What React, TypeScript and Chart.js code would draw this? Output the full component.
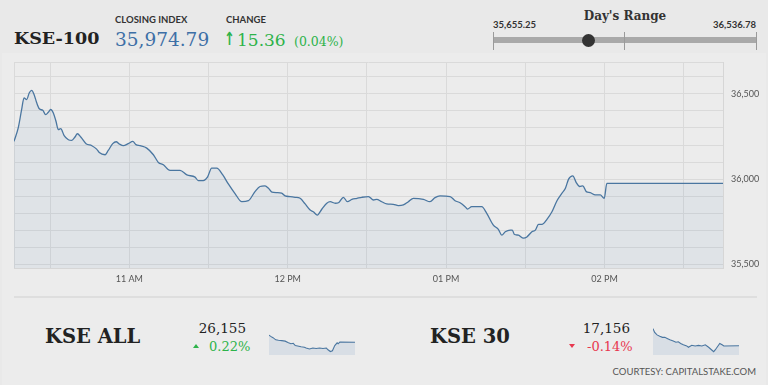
import React, { useEffect, useRef } from "react";
import { Chart, registerables } from "chart.js";

Chart.register(...registerables);

// ---------- KSE-100 intraday (minutes since midnight, index value) ----------
const kseTimes = [
  616.3, 617.9, 619.2, 620.1, 621.1, 622.1, 623.0, 623.9, 624.9, 625.9,
  627.2, 628.3, 629.3, 630.2, 631.2, 632.2, 633.1, 634.0, 635.3, 636.9,
  638.2, 639.4, 640.3, 641.6, 643.6, 645.8, 647.6, 648.6, 650.8, 652.0,
  653.7, 655.0, 656.2, 657.7, 659.6, 661.3, 662.5, 664.1, 666.6, 669.1,
  671.0, 672.9, 675.4, 679.2, 681.8, 684.9, 686.1, 688.0, 689.6, 691.2,
  693.1, 695.4, 697.5, 700.1, 702.6, 705.1, 707.6, 709.5, 711.4, 712.7,
  714.0, 715.9, 717.7, 719.0, 720.9, 722.8, 724.7, 726.6, 728.5, 729.7,
  731.2, 732.9, 734.8, 736.1, 738.0, 739.2, 741.1, 742.6, 744.3, 746.2,
  748.1, 750.6, 752.5, 753.7, 755.6, 757.5, 760.0, 761.9, 763.8, 765.7,
  767.6, 771.4, 773.9, 775.8, 777.7, 781.5, 783.4, 785.3, 787.2, 788.1,
  789.7, 791.6, 793.5, 795.4, 797.9, 799.8, 801.1, 802.4, 804.3, 805.1,
  805.8, 807.4, 809.3, 810.6, 812.5, 813.8, 815.0, 816.3, 818.2, 820.1,
  822.0, 823.9, 825.2, 826.4, 828.0, 829.3, 830.6, 831.8, 833.1, 834.6,
  836.5, 838.4, 839.9, 840.9, 884.9,
];
const kseValues = [
  36221, 36300, 36408, 36476, 36466, 36506, 36520, 36496, 36447, 36412,
  36403, 36378, 36392, 36408, 36388, 36339, 36290, 36296, 36255, 36231,
  36227, 36247, 36266, 36247, 36208, 36196, 36176, 36156, 36143, 36168,
  36208, 36219, 36206, 36196, 36208, 36221, 36202, 36196, 36182, 36143,
  36098, 36084, 36051, 36051, 36025, 36012, 35992, 35992, 36012, 36065,
  36065, 36025, 35972, 35914, 35868, 35874, 35927, 35957, 35961, 35947,
  35924, 35921, 35918, 35902, 35898, 35894, 35888, 35855, 35819, 35809,
  35790, 35824, 35859, 35868, 35859, 35862, 35894, 35868, 35882, 35888,
  35894, 35898, 35878, 35882, 35868, 35855, 35853, 35845, 35849, 35868,
  35888, 35882, 35868, 35892, 35902, 35898, 35874, 35862, 35839, 35825,
  35839, 35839, 35839, 35800, 35731, 35706, 35672, 35692, 35702, 35702,
  35678, 35672, 35655, 35662, 35692, 35702, 35735, 35735, 35765, 35809,
  35874, 35918, 35947, 36000, 36019, 35980, 35957, 35961, 35927, 35921,
  35908, 35908, 35888, 35975, 35975,
];

// axis ticks
const xGridTimes = [616.3, 630, 660, 690, 720, 750, 780, 810, 840, 870, 884.9];
const xHourLabels: Record<string, string> = { "660": "11 AM", "720": "12 PM", "780": "01 PM", "840": "02 PM" };
const yGridValues = [35480, 35500, 35600, 35700, 35800, 35900, 36000, 36100, 36200, 36300, 36400, 36500, 36600, 36686];
const yLabelledValues = [35500, 36000, 36500];

// header figures
const closingIndex = 35974.79;
const changePts = 15.36;
const changePct = 0.04;
const dayLow = 35655.25;
const dayHigh = 36536.78;

// ---------- KSE ALL sparkline ----------
const allTimes = [
  618.4, 623.6, 630.9, 639.3, 647.7, 658.1, 668.6, 676.9, 686.3, 693.6,
  699.9, 707.2, 717.7, 728.1, 733.4, 743.8, 754.3, 764.7, 775.2, 785.6,
  796.1, 801.3, 808.6, 814.9, 822.2, 829.5, 832.6, 837.9, 884.9,
];
const allValues = [
  26241, 26226, 26210, 26184, 26178, 26174, 26168, 26151, 26136, 26142,
  26115, 26109, 26100, 26094, 26084, 26073, 26084, 26079, 26084, 26079,
  26084, 26063, 26042, 26052, 26115, 26147, 26136, 26157, 26155,
];
const allLast = "26,155";
const allPct = "0.22%";

// ---------- KSE 30 sparkline ----------
const k30Times = [
  618.4, 623.6, 630.9, 639.3, 647.7, 655.0, 662.3, 670.6, 681.1, 689.5,
  696.8, 704.1, 712.4, 722.9, 728.1, 738.6, 749.0, 759.5, 769.9, 780.4,
  790.8, 801.3, 806.5, 811.7, 817.0, 825.3, 832.6, 837.9, 884.9,
];
const k30Values = [
  17260, 17237, 17222, 17214, 17207, 17207, 17200, 17192, 17185, 17177,
  17180, 17170, 17162, 17155, 17147, 17159, 17155, 17158, 17155, 17162,
  17147, 17129, 17120, 17132, 17147, 17170, 17162, 17155, 17156,
];
const k30Last = "17,156";
const k30Pct = "-0.14%";

const LINE = "#4a76a0";
const SERIF = "'DejaVu Serif', 'Liberation Serif', serif";
const SANS = "Lato, 'Open Sans', sans-serif";

function toXY(ts: number[], vs: number[]) {
  return ts.map((t, i) => ({ x: t, y: vs[i] }));
}

function MainChart() {
  const ref = useRef<HTMLCanvasElement | null>(null);
  useEffect(() => {
    const chart = new Chart(ref.current!, {
      type: "line",
      data: {
        datasets: [
          {
            data: toXY(kseTimes, kseValues),
            borderColor: LINE,
            borderWidth: 1.3,
            backgroundColor: "rgba(110,150,190,0.10)",
            fill: "start",
            pointRadius: 0,
            cubicInterpolationMode: "monotone",
          },
        ],
      },
      options: {
        animation: false,
        responsive: false,
        maintainAspectRatio: false,
        layout: { padding: 0 },
        plugins: { legend: { display: false }, tooltip: { enabled: false } },
        scales: {
          x: {
            type: "linear",
            min: kseTimes[0],
            max: kseTimes[kseTimes.length - 1],
            afterBuildTicks: (s: any) => {
              s.ticks = xGridTimes.map((v) => ({ value: v }));
            },
            afterFit: (s: any) => {
              s.height = 27;
              s.paddingLeft = 0;
              s.paddingRight = 0;
            },
            ticks: {
              autoSkip: false,
              maxRotation: 0,
              padding: 6,
              color: "#555",
              font: { family: SANS, size: 9 },
              callback: (v: any) => xHourLabels[String(v)] ?? "",
            },
            grid: { color: "#dadada", drawTicks: false },
            border: { color: "#d6d6d6" },
          },
          y: {
            type: "linear",
            position: "right",
            min: yGridValues[0],
            max: yGridValues[yGridValues.length - 1],
            afterBuildTicks: (s: any) => {
              s.ticks = yGridValues.map((v) => ({ value: v }));
            },
            afterFit: (s: any) => {
              s.width = 45;
              s.paddingTop = 0;
              s.paddingBottom = 0;
            },
            ticks: {
              padding: 8,
              color: "#555",
              font: { family: SANS, size: 9 },
              callback: (v: any) => (yLabelledValues.includes(Number(v)) ? Number(v).toLocaleString("en-US") : ""),
            },
            grid: { color: "#dadada", drawTicks: false },
            border: { color: "#d6d6d6" },
          },
        },
      },
    } as any);
    return () => chart.destroy();
  }, []);
  return (
    <canvas
      ref={ref}
      width={754}
      height={233}
      style={{ position: "absolute", left: 14, top: 62, width: 754, height: 233 }}
    />
  );
}

function Spark({ ts, vs, left, top }: { ts: number[]; vs: number[]; left: number; top: number }) {
  const ref = useRef<HTMLCanvasElement | null>(null);
  useEffect(() => {
    const chart = new Chart(ref.current!, {
      type: "line",
      data: {
        datasets: [
          {
            data: toXY(ts, vs),
            borderColor: LINE,
            borderWidth: 1.1,
            backgroundColor: "rgba(110,150,190,0.16)",
            fill: "start",
            pointRadius: 0,
            tension: 0,
          },
        ],
      },
      options: {
        animation: false,
        responsive: false,
        maintainAspectRatio: false,
        layout: { padding: { top: 1 } },
        plugins: { legend: { display: false }, tooltip: { enabled: false } },
        scales: {
          x: { type: "linear", display: false, min: ts[0], max: ts[ts.length - 1] },
          y: { type: "linear", display: false, grace: 0 },
        },
      },
    } as any);
    return () => chart.destroy();
  }, []);
  return (
    <canvas
      ref={ref}
      width={86}
      height={34}
      style={{ position: "absolute", left, top, width: 86, height: 34 }}
    />
  );
}

const abs = (o: React.CSSProperties): React.CSSProperties => ({
  position: "absolute",
  lineHeight: 1,
  whiteSpace: "nowrap",
  ...o,
});

export default function App() {
  const rangeLeft = 493;
  const rangeWidth = 263;
  const dotX = rangeLeft + ((closingIndex - dayLow) / (dayHigh - dayLow)) * rangeWidth;
  const fmt2 = (v: number) => v.toLocaleString("en-US", { minimumFractionDigits: 2, maximumFractionDigits: 2 });

  return (
    <div
      style={{
        position: "fixed",
        left: 0,
        top: 0,
        width: 768,
        height: 385,
        overflow: "hidden",
        background: "#e9e9e9",
      }}
    >
      <div style={{ position: "absolute", left: 2, top: 53, width: 764, height: 332, background: "#ececec" }} />

      {/* Header */}
      <div style={abs({ left: 14, top: 30, fontFamily: SERIF, fontWeight: 700, fontSize: 17.5, color: "#222" })}>KSE-100</div>
      <div style={abs({ left: 115, top: 15, fontFamily: SANS, fontWeight: 700, fontSize: 9.5, color: "#333" })}>CLOSING INDEX</div>
      <div style={abs({ left: 115, top: 31, fontFamily: SERIF, fontSize: 18.5, color: "#3d6fa6" })}>{fmt2(closingIndex)}</div>
      <div style={abs({ left: 226, top: 15, fontFamily: SANS, fontWeight: 700, fontSize: 9.5, color: "#333" })}>CHANGE</div>
      <div style={abs({ left: 224, top: 30, fontFamily: "'DejaVu Sans', sans-serif", fontWeight: 700, fontSize: 18, color: "#2db34a", transform: "scaleX(0.7)", transformOrigin: "left" })}>↑</div>
      <div style={abs({ left: 237, top: 32, fontFamily: SERIF, fontSize: 17, color: "#2db34a" })}>{changePts.toFixed(2)}</div>
      <div style={abs({ left: 294, top: 36, fontFamily: SERIF, fontSize: 12.5, color: "#2db34a" })}>({changePct.toFixed(2)}%)</div>

      {/* Day's range */}
      <div style={abs({ left: 525, width: 200, textAlign: "center", top: 10, fontFamily: SERIF, fontWeight: 700, fontSize: 12, color: "#333" })}>Day's Range</div>
      <div style={abs({ left: rangeLeft, top: 19.5, fontFamily: SANS, fontWeight: 700, fontSize: 9.5, color: "#333" })}>{fmt2(dayLow)}</div>
      <div style={abs({ left: rangeLeft + rangeWidth - 100, width: 100, textAlign: "right", top: 19.5, fontFamily: SANS, fontWeight: 700, fontSize: 9.5, color: "#333" })}>{fmt2(dayHigh)}</div>
      <div style={{ position: "absolute", left: rangeLeft, top: 37, width: rangeWidth, height: 6, background: "#a9a9a9" }} />
      {[0, 0.5, 1].map((f) => (
        <div key={f} style={{ position: "absolute", left: rangeLeft + f * rangeWidth - 0.5, top: 32, width: 1, height: 18, background: "#9a9a9a" }} />
      ))}
      <div style={{ position: "absolute", left: dotX - 6.5, top: 34, width: 13, height: 13, borderRadius: "50%", background: "#333" }} />

      {/* Main chart */}
      <MainChart />

      {/* Separator */}
      <div style={{ position: "absolute", left: 14, top: 296, width: 743, height: 2, background: "#dedede" }} />

      {/* KSE ALL */}
      <div style={abs({ left: 45, top: 326.5, fontFamily: SERIF, fontWeight: 700, fontSize: 19.5, color: "#222" })}>KSE ALL</div>
      <div style={abs({ left: 146, width: 100, textAlign: "right", top: 321.5, fontFamily: SERIF, fontSize: 13.5, color: "#222" })}>{allLast}</div>
      <div style={{ position: "absolute", left: 193, top: 344, width: 0, height: 0, borderLeft: "3px solid transparent", borderRight: "3px solid transparent", borderBottom: "4px solid #2db34a" }} />
      <div style={abs({ left: 209, top: 339.5, fontFamily: SERIF, fontSize: 13, color: "#2db34a" })}>{allPct}</div>
      <Spark ts={allTimes} vs={allValues} left={269} top={321} />

      {/* KSE 30 */}
      <div style={abs({ left: 430, top: 326.5, fontFamily: SERIF, fontWeight: 700, fontSize: 19.5, color: "#222" })}>KSE 30</div>
      <div style={abs({ left: 530, width: 100, textAlign: "right", top: 321.5, fontFamily: SERIF, fontSize: 13.5, color: "#222" })}>{k30Last}</div>
      <div style={{ position: "absolute", left: 569, top: 344, width: 0, height: 0, borderLeft: "3.5px solid transparent", borderRight: "3.5px solid transparent", borderTop: "4px solid #e8384f" }} />
      <div style={abs({ left: 587, top: 339.5, fontFamily: SERIF, fontSize: 13, color: "#e8384f" })}>{k30Pct}</div>
      <Spark ts={k30Times} vs={k30Values} left={653} top={321} />

      <div style={abs({ left: 556, width: 200, textAlign: "right", top: 367, fontFamily: SANS, fontSize: 9.5, color: "#555" })}>COURTESY: CAPITALSTAKE.COM</div>
    </div>
  );
}
